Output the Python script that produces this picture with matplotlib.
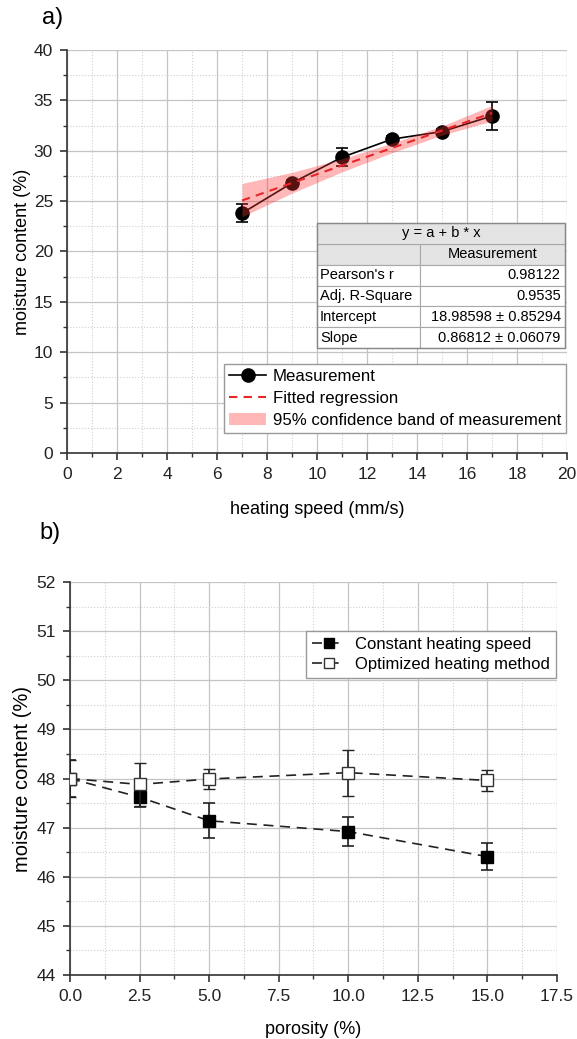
import matplotlib
matplotlib.use('Agg')
import matplotlib.pyplot as plt
import numpy as np
from matplotlib.ticker import MultipleLocator
from matplotlib.patches import Patch, Rectangle
from matplotlib.lines import Line2D

plt.rcParams['font.family'] = ['Liberation Sans', 'DejaVu Sans']

# ---- panel a) data ----
speed = [7, 9, 11, 13, 15, 17]
moisture_a = [23.8, 26.8, 29.35, 31.15, 31.9, 33.45]
moisture_a_err = [0.9, 0.3, 0.9, 0.3, 0.3, 1.4]

intercept = 18.98598
slope = 0.86812
fit_x = [7, 17]

band_x = [7, 9, 11, 13, 15, 17]
band_lo = [23.45, 25.8, 27.9, 29.8, 31.55, 32.95]
band_hi = [26.75, 27.85, 29.2, 30.75, 32.45, 34.5]

fit_title = 'y = a + b * x'
table_header = ['', 'Measurement']
table_rows = [["Pearson's r", '0.98122'],
              ['Adj. R-Square', '0.9535'],
              ['Intercept', '18.98598 \u00b1 0.85294'],
              ['Slope', '0.86812 \u00b1 0.06079']]

# ---- panel b) data ----
porosity = [0, 2.5, 5, 10, 15]
constant_speed = [48.0, 47.62, 47.14, 46.92, 46.41]
constant_speed_err = [0.38, 0.2, 0.36, 0.3, 0.28]
optimized = [48.0, 47.88, 47.99, 48.12, 47.96]
optimized_err = [0.38, 0.44, 0.2, 0.47, 0.21]


def style_axes(ax):
    for s in ['top', 'right']:
        ax.spines[s].set_visible(False)
    for s in ['left', 'bottom']:
        ax.spines[s].set_linewidth(1.2)
        ax.spines[s].set_color('#333333')
    ax.tick_params(which='major', direction='out', length=5, width=1.1, labelsize=12.5,
                   colors='#222222', pad=5)
    ax.tick_params(which='minor', direction='out', length=3, width=1.0, colors='#333333')
    ax.grid(True, which='major', ls='-', lw=0.9, color='#c4c4c4', zorder=0)
    ax.grid(True, which='minor', ls=':', lw=0.8, color='#d0d0d0', zorder=0)
    ax.set_axisbelow(True)


fig = plt.figure(figsize=(5.77, 10.39), dpi=100)

# ================= a) =================
ax1 = fig.add_axes([0.1161, 0.564, 0.8666, 0.3879])
style_axes(ax1)

ax1.errorbar(speed, moisture_a, yerr=moisture_a_err, color='black', lw=1.2, marker='o', ms=9.5,
             capsize=4, elinewidth=1.2, capthick=1.2, zorder=3)
ax1.fill_between(band_x, band_lo, band_hi, color='#ff3333', alpha=0.35, lw=0, zorder=4)
fit_y = [intercept + slope * v for v in fit_x]
ax1.plot(fit_x, fit_y, color='#e8262a', ls=(0, (4, 3)), lw=1.5, zorder=5)

ax1.set_xlim(0, 20)
ax1.set_ylim(0, 40)
ax1.xaxis.set_major_locator(MultipleLocator(2))
ax1.xaxis.set_minor_locator(MultipleLocator(1))
ax1.yaxis.set_major_locator(MultipleLocator(5))
ax1.yaxis.set_minor_locator(MultipleLocator(2.5))
ax1.set_xlabel('heating speed (mm/s)', fontsize=13, labelpad=14)
ax1.set_ylabel('moisture content (%)', fontsize=13, labelpad=2)

# stats table: header row drawn as a box, the rest as a table
tx0, tw = 0.5, 0.496
ty0, th = 0.26, 0.311
row_h = th / 6
cells = [table_header] + table_rows
tbl = ax1.table(cellText=cells, bbox=[tx0, ty0, tw, row_h * 5], colWidths=[0.415, 0.585],
                zorder=6)
tbl.auto_set_font_size(False)
tbl.set_fontsize(10.5)
for (r, c), cell in tbl.get_celld().items():
    cell.set_edgecolor('#a8a8a8')
    cell.set_linewidth(0.8)
    cell.PAD = 0.03
    if r == 0:
        cell.set_facecolor('#e4e4e4')
        cell.get_text().set_ha('center')
    else:
        cell.set_facecolor('white')
        cell.get_text().set_ha('left' if c == 0 else 'right')
ax1.add_patch(Rectangle((tx0, ty0 + row_h * 5), tw, row_h, transform=ax1.transAxes,
                        facecolor='#e4e4e4', edgecolor='#a8a8a8', lw=0.8, zorder=6))
ax1.add_patch(Rectangle((tx0, ty0), tw, th, transform=ax1.transAxes, facecolor='none',
                        edgecolor='#888888', lw=1.0, zorder=7))
ax1.text(tx0 + tw / 2, ty0 + row_h * 5.5, fit_title, transform=ax1.transAxes,
         ha='center', va='center', fontsize=10.5, zorder=7)

handles = [Line2D([], [], color='black', lw=1.2, marker='o', ms=9.5),
           Line2D([], [], color='#e8262a', ls=(0, (4, 3)), lw=1.5),
           Patch(facecolor='#ff3333', alpha=0.35, edgecolor='none')]
labels = ['Measurement', 'Fitted regression', '95% confidence band of measurement']
leg1 = ax1.legend(handles, labels, loc='lower right', bbox_to_anchor=(0.998, 0.05), fontsize=12.1,
                  frameon=True, fancybox=False, framealpha=1, edgecolor='#999999',
                  handlelength=2.2, handletextpad=0.4, borderpad=0.3, labelspacing=0.42,
                  borderaxespad=0)
leg1.get_frame().set_linewidth(1.0)
leg1.set_zorder(8)

fig.text(0.073, 0.983, 'a)', fontsize=17, va='center', ha='left')

# ================= b) =================
ax2 = fig.add_axes([0.1213, 0.0616, 0.844, 0.3782])
style_axes(ax2)

ax2.errorbar(porosity, constant_speed, yerr=constant_speed_err, color='#222222', ls=(0, (6, 4)),
             lw=1.2, marker='s', ms=9, mfc='black', mec='black', capsize=4, elinewidth=1.2,
             capthick=1.2, label='Constant heating speed', zorder=3)
ax2.errorbar(porosity, optimized, yerr=optimized_err, color='#222222', ls=(0, (6, 4)),
             lw=1.2, marker='s', ms=9, mfc='white', mec='#333333', mew=1.0, capsize=4,
             elinewidth=1.2, capthick=1.2, label='Optimized heating method', zorder=4)

ax2.set_xlim(0, 17.5)
ax2.set_ylim(44, 52)
ax2.xaxis.set_major_locator(MultipleLocator(2.5))
ax2.xaxis.set_minor_locator(MultipleLocator(1.25))
ax2.yaxis.set_major_locator(MultipleLocator(1))
ax2.yaxis.set_minor_locator(MultipleLocator(0.5))
ax2.set_xticks(np.arange(0, 17.6, 2.5))
ax2.set_xticklabels(['%.1f' % v for v in np.arange(0, 17.6, 2.5)])
ax2.set_xlabel('porosity (%)', fontsize=13, labelpad=12)
ax2.set_ylabel('moisture content (%)', fontsize=14.5, labelpad=3)

h2, l2 = ax2.get_legend_handles_labels()
h2 = [h[0] for h in h2]
leg2 = ax2.legend(h2, l2, loc='upper right', bbox_to_anchor=(0.998, 0.875), fontsize=12,
                  frameon=True, fancybox=False, framealpha=1, edgecolor='#999999',
                  handlelength=2.0, handletextpad=0.6, borderpad=0.35, labelspacing=0.3,
                  borderaxespad=0, markerscale=0.8)
leg2.get_frame().set_linewidth(1.0)

fig.text(0.069, 0.487, 'b)', fontsize=17, va='center', ha='left')

fig.savefig('out.png', dpi=100)
